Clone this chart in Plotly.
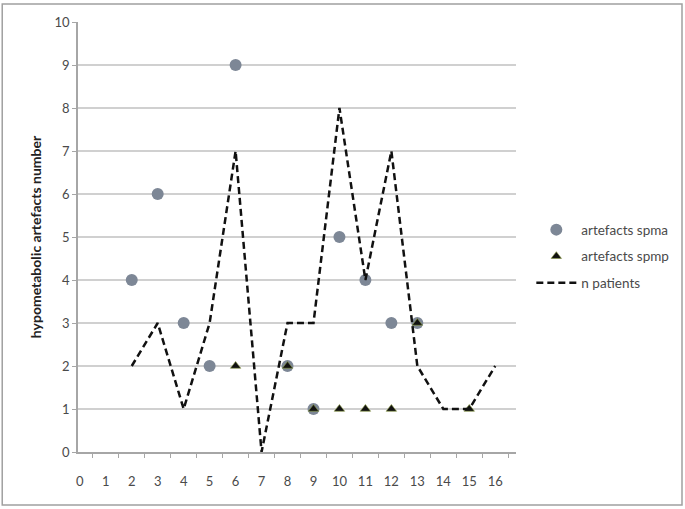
import plotly.graph_objects as go

x_ticks = list(range(0, 17))
tick_labels = [str(v) for v in x_ticks]
y_ticks = list(range(0, 11))

spma_x = [2, 3, 4, 5, 6, 8, 9, 10, 11, 12, 13]
spma_y = [4, 6, 3, 2, 9, 2, 1, 5, 4, 3, 3]

spmp_x = [6, 8, 9, 10, 11, 12, 13, 15]
spmp_y = [2, 2, 1, 1, 1, 1, 3, 1]

pat_x = [2, 3, 4, 5, 6, 7, 8, 9, 10, 11, 12, 13, 14, 15, 16]
pat_y = [2, 3, 1, 3, 7, 0, 3, 3, 8, 4, 7, 2, 1, 1, 2]

FONT = "Lato, 'Open Sans', sans-serif"
TXT = "#4a4a4a"

fig = go.Figure()
fig.add_trace(go.Scatter(
    x=spma_x, y=spma_y, mode="markers", name="artefacts spma",
    legendgroup="a",
    marker=dict(symbol="circle", size=12, color="#7d8796", line=dict(width=0)),
))
fig.add_trace(go.Scatter(
    x=spmp_x, y=spmp_y, mode="markers", name="artefacts spmp",
    legendgroup="b",
    marker=dict(symbol="triangle-up", size=9, color="#111111",
                line=dict(width=0.6, color="#8a9a40")),
))
fig.add_trace(go.Scatter(
    x=pat_x, y=pat_y, mode="lines", name="n patients",
    legendgroup="c",
    line=dict(color="#111111", width=2.5, dash="7px,4px"),
))
# invisible trace carrying the between-category tick marks
fig.add_trace(go.Scatter(
    x=[x_ticks[0], x_ticks[-1]], y=[0, 0], xaxis="x2", mode="markers",
    marker=dict(opacity=0), showlegend=False, hoverinfo="skip",
))

xr = [-0.07, 16.8]
fig.update_layout(
    width=685, height=509,
    margin=dict(l=78, r=169, t=22, b=57, autoexpand=False),
    paper_bgcolor="white", plot_bgcolor="white",
    font=dict(family=FONT, size=13, color=TXT),
    showlegend=True,
    legend=dict(x=1.035, y=0.455, xanchor="left", yanchor="middle",
                font=dict(family=FONT, size=13.5, color=TXT),
                traceorder="grouped", tracegroupgap=6,
                bgcolor="rgba(0,0,0,0)", itemwidth=40),
    xaxis=dict(
        range=xr, tickmode="array", tickvals=x_ticks, ticktext=tick_labels,
        ticks="outside", ticklen=17, tickcolor="rgba(0,0,0,0)",
        showgrid=False, zeroline=False, automargin=False,
        showline=True, linecolor="#a6a6a6", linewidth=1.5,
        tickfont=dict(family=FONT, size=13, color=TXT),
    ),
    xaxis2=dict(
        range=xr, overlaying="x", side="bottom", automargin=False,
        tickmode="array", tickvals=[v + 0.5 for v in x_ticks],
        showticklabels=False, ticks="outside", ticklen=5,
        tickcolor="#a6a6a6", tickwidth=1.2,
        showgrid=False, zeroline=False, showline=False,
    ),
    yaxis=dict(
        range=[0, 10], tickmode="array", tickvals=y_ticks,
        ticks="outside", ticklen=4, tickcolor="#a6a6a6",
        showgrid=True, gridcolor="#d0d0d0", gridwidth=1.5,
        zeroline=False, showline=True, linecolor="#a6a6a6", linewidth=1.5,
        automargin=False,
        tickfont=dict(family=FONT, size=13, color=TXT),
        title=dict(text="<b>hypometabolic artefacts number</b>",
                   font=dict(family=FONT, size=14, color="#222222"),
                   standoff=10),
    ),
    shapes=[dict(type="rect", xref="paper", yref="paper",
                 x0=-0.173, x1=1.379, y0=-0.123, y1=1.042,
                 line=dict(color="#a0a0a0", width=1.5), layer="below")],
)

fig.write_html(
    "out.html",
    config={"displayModeBar": False},
    post_script="document.body.style.margin='0';document.body.style.overflow='hidden';",
)
